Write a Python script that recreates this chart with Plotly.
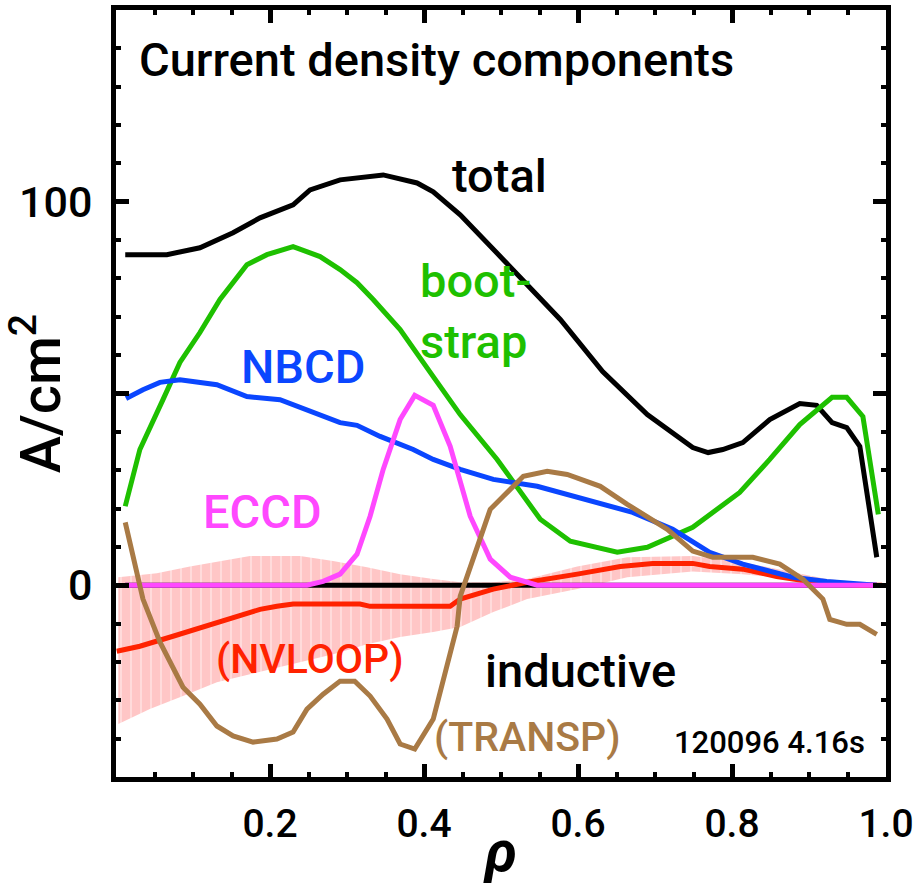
import plotly.graph_objects as go

# ---------------- data ----------------
total_x = [0.012, 0.066, 0.109, 0.152, 0.187, 0.230, 0.252, 0.291, 0.347, 0.391, 0.412, 0.447,
           0.503, 0.551, 0.577, 0.632, 0.690, 0.749, 0.769, 0.788, 0.814, 0.849, 0.888, 0.910,
           0.930, 0.949, 0.966, 0.988]
total_y = [86.2, 86.2, 88.0, 91.9, 95.8, 99.2, 103.1, 105.7, 107.0, 104.9, 102.6, 96.6,
           84.9, 74.5, 69.3, 55.7, 44.5, 35.9, 34.6, 35.4, 37.2, 43.2, 47.4, 46.9,
           42.4, 41.1, 36.2, 7.3]

boot_x = [0.012, 0.031, 0.061, 0.083, 0.109, 0.135, 0.170, 0.196, 0.230, 0.265, 0.291, 0.313,
          0.334, 0.369, 0.412, 0.447, 0.495, 0.551, 0.590, 0.651, 0.690, 0.749, 0.810, 0.849,
          0.888, 0.930, 0.949, 0.970, 0.990]
boot_y = [20.6, 35.4, 48.4, 58.1, 65.9, 74.5, 83.6, 86.2, 88.3, 85.7, 82.3, 78.9,
          74.5, 66.7, 54.4, 44.5, 32.8, 17.2, 11.5, 8.6, 9.9, 15.1, 24.2, 32.8,
          41.9, 49.0, 49.0, 44.0, 18.5]

nbcd_x = [0.013, 0.035, 0.057, 0.083, 0.131, 0.170, 0.213, 0.256, 0.291, 0.313, 0.343, 0.386,
          0.412, 0.447, 0.490, 0.547, 0.612, 0.671, 0.723, 0.771, 0.814, 0.879, 0.923, 0.988]
nbcd_y = [48.7, 51.0, 52.9, 53.6, 52.3, 49.2, 48.4, 45.1, 42.4, 41.7, 38.8, 35.4,
          32.8, 30.2, 27.6, 25.8, 22.4, 19.0, 14.6, 8.6, 5.5, 2.1, 1.0, 0.0]

eccd_x = [0.012, 0.248, 0.269, 0.291, 0.313, 0.330, 0.347, 0.369, 0.388, 0.412, 0.434, 0.447,
          0.460, 0.486, 0.512, 0.547, 0.988]
eccd_y = [0.0, 0.0, 1.0, 2.9, 8.1, 18.0, 30.2, 43.2, 49.5, 46.9, 36.2, 27.6,
          18.0, 6.8, 2.1, 0.0, 0.0]

transp_x = [0.012, 0.035, 0.057, 0.087, 0.109, 0.131, 0.152, 0.178, 0.209, 0.230, 0.248, 0.269,
            0.291, 0.310, 0.330, 0.352, 0.369, 0.388, 0.412, 0.430, 0.443, 0.447, 0.464, 0.486,
            0.503, 0.529, 0.560, 0.586, 0.629, 0.664, 0.716, 0.749, 0.775, 0.827, 0.862, 0.892,
            0.918, 0.927, 0.949, 0.966, 0.988]
transp_y = [16.4, -3.6, -14.8, -26.6, -31.0, -36.7, -39.3, -40.9, -40.1, -38.3, -32.3, -28.4,
            -25.0, -25.0, -28.9, -34.9, -41.4, -42.7, -34.9, -21.1, -10.7, -2.9, 6.8, 19.8,
            23.2, 28.4, 29.7, 28.9, 25.8, 21.1, 14.6, 8.9, 7.3, 7.3, 5.5, 1.6,
            -3.6, -8.9, -10.2, -10.2, -12.8]

nvloop_x = [0.001, 0.031, 0.074, 0.126, 0.187, 0.209, 0.230, 0.317, 0.330, 0.434, 0.447, 0.490,
            0.534, 0.599, 0.655, 0.697, 0.749, 0.771, 0.814, 0.858, 0.901, 0.966, 0.995]
nvloop_y = [-17.2, -15.9, -13.3, -10.2, -6.3, -5.5, -4.9, -4.9, -5.5, -5.5, -3.6, -1.0,
            0.8, 2.9, 4.9, 5.7, 5.7, 4.9, 4.2, 2.3, 1.0, 0.0, 0.0]

band_x = [0.003, 0.053, 0.096, 0.139, 0.174, 0.239, 0.282, 0.326, 0.369, 0.412, 0.447, 0.490,
          0.534, 0.599, 0.664, 0.749, 0.814, 0.879, 0.923, 0.988]
band_hi = [2.1, 3.1, 4.9, 6.3, 7.6, 7.6, 6.3, 4.7, 2.9, 1.6, 0.8, 0.8,
           1.6, 4.9, 7.3, 7.6, 6.0, 3.4, 1.6, 0.3]
band_lo_x = [0.003, 0.044, 0.087, 0.131, 0.174, 0.217, 0.282, 0.326, 0.369, 0.412, 0.447, 0.490,
             0.534, 0.599, 0.664, 0.749, 0.814, 0.879, 0.923, 0.988]
band_lo = [-36.2, -32.3, -28.9, -25.3, -23.2, -21.1, -18.0, -15.4, -13.5, -12.2, -10.9, -7.0,
           -3.6, -1.0, 2.1, 3.6, 2.9, 1.6, 0.3, -0.3]

x_ticks = [0.2, 0.4, 0.6, 0.8, 1.0]
x_ticktext = ["0.2", "0.4", "0.6", "0.8", "1.0"]
y_label_ticks = [0, 100]
y_label_text = ["0", "100"]
y_major_ticks = [0, 50, 100]

# ---------------- styling ----------------
FONT = "Roboto, Liberation Sans, sans-serif"
BLACK = "#000000"
GREEN = "#1ec000"
BLUE = "#0a46ff"
MAGENTA = "#ff48ff"
RED = "#ff2200"
BROWN = "#a97a45"
PINK = "#ffc6c6"
LW = 5
XR = [0, 1]
YR = [-50, 150]

fig = go.Figure()

# uncertainty band of NVLOOP inductive current (vertical-bar look)
fig.add_trace(go.Scatter(x=band_x, y=band_hi, mode="lines", line=dict(width=0, color=PINK),
                         hoverinfo="skip", showlegend=False))
fig.add_trace(go.Scatter(x=band_lo_x, y=band_lo, mode="lines", line=dict(width=0, color=PINK),
                         fill="tonexty", fillcolor=PINK,
                         fillpattern=dict(shape="|", fgcolor="white", bgcolor=PINK, size=10,
                                          solidity=0.15),
                         hoverinfo="skip", showlegend=False))

# zero line
fig.add_trace(go.Scatter(x=[eccd_x[0], eccd_x[-1]], y=[0, 0], mode="lines",
                         line=dict(color=BLACK, width=LW), showlegend=False))

fig.add_trace(go.Scatter(x=nvloop_x, y=nvloop_y, mode="lines", line=dict(color=RED, width=LW),
                         showlegend=False, name="inductive (NVLOOP)"))
fig.add_trace(go.Scatter(x=total_x, y=total_y, mode="lines", line=dict(color=BLACK, width=LW),
                         showlegend=False, name="total"))
fig.add_trace(go.Scatter(x=boot_x, y=boot_y, mode="lines", line=dict(color=GREEN, width=LW),
                         showlegend=False, name="bootstrap"))
fig.add_trace(go.Scatter(x=nbcd_x, y=nbcd_y, mode="lines", line=dict(color=BLUE, width=LW),
                         showlegend=False, name="NBCD"))
fig.add_trace(go.Scatter(x=eccd_x, y=eccd_y, mode="lines", line=dict(color=MAGENTA, width=LW),
                         showlegend=False, name="ECCD"))
fig.add_trace(go.Scatter(x=transp_x, y=transp_y, mode="lines", line=dict(color=BROWN, width=LW),
                         showlegend=False, name="inductive (TRANSP)"))
# empty trace to host the unlabeled major-tick axis
fig.add_trace(go.Scatter(x=[], y=[], yaxis="y2", showlegend=False, hoverinfo="skip"))

W = 500
annos = [
    dict(text="Current density components", x=0.027, y=137, xanchor="left", yanchor="middle",
         font=dict(size=47, color=BLACK, weight=W)),
    dict(text="total", x=0.434, y=106.8, xanchor="left", yanchor="middle",
         font=dict(size=47, color=BLACK, weight=W)),
    dict(text="boot-<br>strap", x=0.392, y=71.5, xanchor="left", yanchor="middle", align="left",
         font=dict(size=47, color=GREEN, weight=W)),
    dict(text="NBCD", x=0.243, y=57.0, xanchor="center", yanchor="middle",
         font=dict(size=47, color=BLUE, weight=W)),
    dict(text="ECCD", x=0.190, y=19.3, xanchor="center", yanchor="middle",
         font=dict(size=47, color=MAGENTA, weight=W)),
    dict(text="(NVLOOP)", x=0.252, y=-19.3, xanchor="center", yanchor="middle",
         font=dict(size=41, color=RED, weight=W)),
    dict(text="inductive", x=0.477, y=-22.1, xanchor="left", yanchor="middle",
         font=dict(size=47, color=BLACK, weight=W)),
    dict(text="(TRANSP)", x=0.534, y=-39.6, xanchor="center", yanchor="middle",
         font=dict(size=41, color=BROWN, weight=W)),
    dict(text="120096 4.16s", x=0.975, y=-40.9, xanchor="right", yanchor="middle",
         font=dict(size=31, color=BLACK, weight=W)),
]
for a in annos:
    a.update(xref="x", yref="y", showarrow=False)
    fig.add_annotation(**a)

axis_common = dict(showgrid=False, zeroline=False, showline=True, linecolor=BLACK, linewidth=LW,
                   mirror="ticks", ticks="inside", tickcolor=BLACK, tickwidth=5, ticklen=13,
                   automargin=False)

fig.update_xaxes(range=XR, tickmode="array", tickvals=x_ticks, ticktext=x_ticktext,
                 tickfont=dict(size=39, color=BLACK, weight=500), ticklabelstandoff=8,
                 minor=dict(dtick=0.05, tick0=0, ticks="inside", ticklen=5, tickwidth=4,
                            tickcolor=BLACK),
                 title=dict(text="<b><i>ρ</i></b>", font=dict(size=58, color=BLACK), standoff=0),
                 **axis_common)
fig.update_layout(
    yaxis=dict(range=YR, tickmode="array", tickvals=y_label_ticks, ticktext=y_label_text,
               tickfont=dict(size=43, color=BLACK, weight=500), ticklabelstandoff=10,
               minor=dict(dtick=10, tick0=0, ticks="inside", ticklen=5, tickwidth=4,
                          tickcolor=BLACK),
               title=dict(text="A/cm<sup>2</sup>", font=dict(size=56, color=BLACK, weight=W),
                          standoff=8),
               **axis_common),
    yaxis2=dict(range=YR, overlaying="y", side="left", anchor="x", tickmode="array",
                tickvals=y_major_ticks, showticklabels=False, **axis_common),
)

fig.update_layout(width=923, height=885, margin=dict(l=116, r=37, t=10, b=108),
                  paper_bgcolor="white", plot_bgcolor="white",
                  font=dict(family=FONT, color=BLACK), showlegend=False)

fig.write_html("out.html")
